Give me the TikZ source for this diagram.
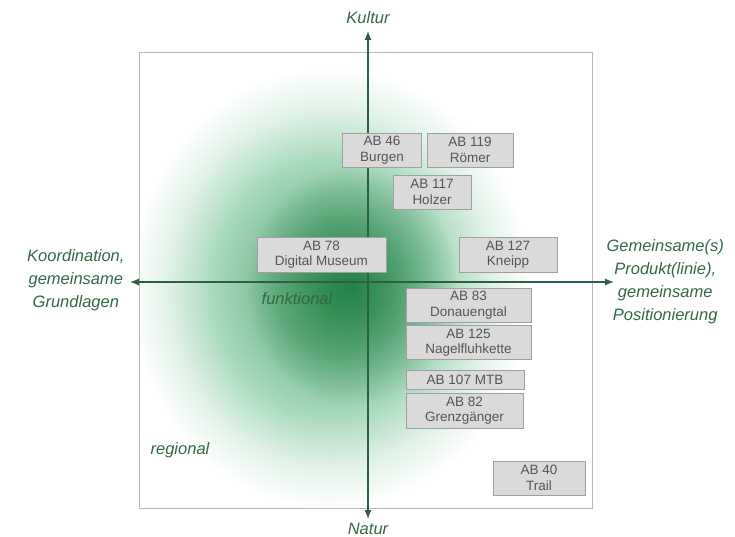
\documentclass[tikz,border=0pt]{standalone}
\usepackage{fontspec}
\setmainfont{Liberation Sans}
\usetikzlibrary{arrows.meta,fadings}
\definecolor{axisgreen}{RGB}{45,95,65}
\definecolor{labelgreen}{RGB}{50,105,70}
\definecolor{boxfill}{RGB}{218,218,218}
\definecolor{boxline}{RGB}{160,160,160}
\definecolor{boxtext}{RGB}{85,85,85}
\definecolor{framegray}{RGB}{185,185,185}
\definecolor{g0}{RGB}{88,166,118}
\definecolor{g1}{RGB}{118,184,144}
\definecolor{g2}{RGB}{172,219,191}
\definecolor{g3}{RGB}{222,241,230}
\definecolor{core}{RGB}{20,120,60}
\pgfdeclareradialshading{glow}{\pgfpoint{0bp}{0bp}}{%
  color(0bp)=(g0); color(7bp)=(g1); color(15bp)=(g2);
  color(20bp)=(g3); color(25bp)=(white); color(50bp)=(white)}
\tikzfading[name=corefade, inner color=transparent!0, outer color=transparent!100]
\tikzset{
  proj/.style={draw=boxline, fill=boxfill, text=boxtext, inner sep=0pt,
    font=\fontsize{13.5}{15.5}\selectfont, align=center, line width=0.8pt},
  axislabel/.style={text=labelgreen, font=\fontsize{16.5}{23}\selectfont\itshape, align=center},
  axis/.style={draw=axisgreen, line width=1.2pt, -{Latex[length=9pt,width=7pt]}},
}
\begin{document}
\begin{tikzpicture}[x=1pt,y=-1pt]
\useasboundingbox (0,0) rectangle (735,537);
% background field: broad green glow with a darker core
\begin{scope}
  \clip (139,52) rectangle (592,508);
  \shade[shading=glow] (330,288) ellipse [x radius=200, y radius=220];
  \fill[core, path fading=corefade, fill opacity=0.8] (352,286) ellipse [x radius=105, y radius=120];
\end{scope}
\draw[framegray, line width=0.7pt] (139,52) rectangle (592,508);

% axis end points and labels
\coordinate (c) at (368,282);
\node[axislabel] (kultur) at (368,18) {Kultur};
\node[axislabel] (natur) at (368,529) {Natur};
\node[axislabel, anchor=east] (koord) at (128,280) {Koordination,\\gemeinsame\\Grundlagen};
\node[axislabel, anchor=west] (prod) at (603,282) {Gemeinsame(s)\\Produkt(linie),\\gemeinsame\\Positionierung};
\coordinate (top) at (368,31);
\coordinate (bot) at (368,519);
\coordinate (lft) at (130,282);
\coordinate (rgt) at (614,282);
\draw[axis] (c) -- (top);
\draw[axis] (c) -- (bot);
\draw[axis] (c) -- (lft);
\draw[axis] (c) -- (rgt);

\node[axislabel, font=\fontsize{16.5}{20}\selectfont\itshape] (funk) at (297,299) {funktional};
\node[axislabel, font=\fontsize{16.5}{20}\selectfont\itshape] (reg) at (180,450) {regional};

% project boxes
\node[proj, minimum width=79pt, minimum height=34pt] (ab46) at (382,150) {AB 46\\Burgen};
\node[proj, minimum width=86pt, minimum height=34pt] (ab119) at (470,150) {AB 119\\Römer};
\node[proj, minimum width=78pt, minimum height=34pt] (ab117) at (432,192) {AB 117\\Holzer};
\node[proj, minimum width=129pt, minimum height=35pt] (ab78) at (321.5,254.5) {AB 78\\Digital Museum};
\node[proj, minimum width=98pt, minimum height=35pt] (ab127) at (508,254.5) {AB 127\\Kneipp};
\node[proj, minimum width=125pt, minimum height=34pt] (ab83) at (468.5,305) {AB 83\\Donauengtal};
\node[proj, minimum width=125pt, minimum height=34pt] (ab125) at (468.5,342.5) {AB 125\\Nagelfluhkette};
\node[proj, minimum width=118pt, minimum height=19pt] (ab107) at (465,380) {AB 107 MTB};
\node[proj, minimum width=117pt, minimum height=35pt] (ab82) at (464.5,410.5) {AB 82\\Grenzgänger};
\node[proj, minimum width=92pt, minimum height=34pt] (ab40) at (539,478) {AB 40\\Trail};
\end{tikzpicture}
\end{document}
